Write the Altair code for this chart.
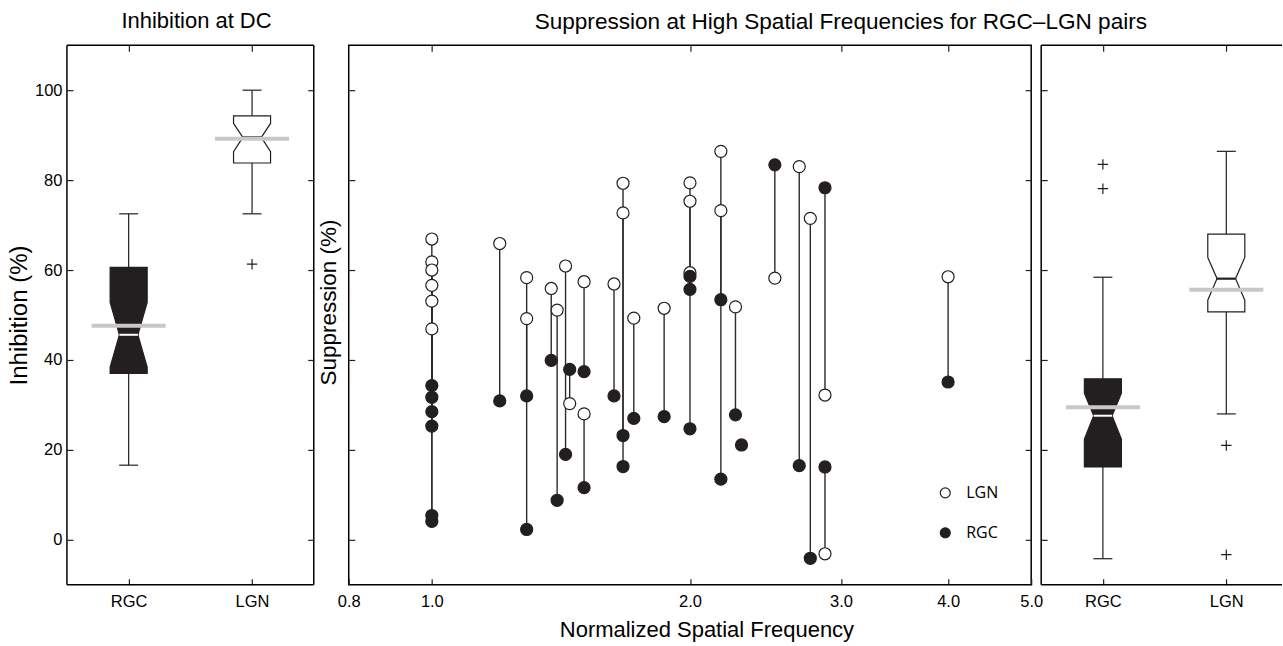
import altair as alt
import pandas as pd

FONT = "Liberation Sans"
INK = "#231f20"
GREY = "#c8c8c8"

# ---------------- middle panel: suppression of RGC-LGN pairs ----------------
pair_freq = [1.0, 1.0, 1.0, 1.0, 1.0, 1.0, 1.20, 1.29, 1.29, 1.378, 1.40, 1.432,
             1.448, 1.505, 1.505, 1.631, 1.671, 1.671, 1.72, 1.866, 2.0, 2.0, 2.0,
             2.173, 2.173, 2.26, 2.297, 2.512, 2.682, 2.763, 2.874, 2.874, 4.0]
pair_lgn = [66.9, 61.8, 60.0, 56.6, 53.1, 46.9, 65.9, 58.3, 49.2, 55.9, 51.1, 60.9,
            30.3, 57.4, 28.0, 56.9, 79.3, 72.7, 49.3, 51.5, 79.4, 75.3, 59.4,
            86.4, 73.2, 51.8, None, 58.2, 83.0, 71.5, 32.2, -3.1, 58.5]
pair_rgc = [34.3, 31.7, 28.5, 25.3, 5.4, 4.1, 30.9, 2.3, 32.0, 39.9, 8.8, 19.0,
            37.9, 37.4, 11.6, 32.0, 16.3, 23.2, 27.0, 27.4, 24.7, 58.6, 55.7,
            13.5, 53.4, 27.8, 21.1, 83.4, 16.5, -4.1, 78.3, 16.2, 35.1]
freq_ticks = [0.8, 1.0, 2.0, 3.0, 4.0, 5.0]
freq_top_ticks = [1.0, 2.0, 3.0, 4.0]

# ---------------- box summaries ----------------
box_groups = ["RGC", "LGN"]
box_pos = [1, 2]
box_fill = ["#231f20", "white"]
median_color = ["white", "#231f20"]

dc_whisk_lo = [16.6, 72.5]
dc_q1 = [37.0, 83.8]
dc_notch_lo = [38.4, 86.3]
dc_median = [45.6, 89.5]
dc_notch_hi = [52.8, 92.6]
dc_q3 = [60.6, 94.3]
dc_whisk_hi = [72.5, 100.0]
dc_mean = [47.6, 89.2]
dc_out_group = ["LGN"]
dc_out_value = [61.3]

hf_whisk_lo = [-4.2, 28.0]
hf_q1 = [16.2, 50.7]
hf_notch_lo = [22.4, 53.3]
hf_median = [27.6, 58.1]
hf_notch_hi = [32.6, 62.8]
hf_q3 = [35.8, 68.0]
hf_whisk_hi = [58.4, 86.4]
hf_mean = [29.5, 55.6]
hf_out_group = ["RGC", "RGC", "LGN", "LGN"]
hf_out_value = [83.5, 78.1, 21.0, -3.3]

y_ticks = [0, 20, 40, 60, 80, 100]
Y_DOMAIN = [-10, 110]

# style constants (widths in category units)
BOX_HW, NOTCH_HW, CAP_HW, MEAN_HW = 0.15, 0.075, 0.077, 0.30
H = 540
FRAME_W = 247
PLUS = "M-1,0L1,0M0,-1L0,1"
LABEL_SIZE = 16.5


def tick_axis(orient, values, labels=True, labelPadding=6, offset=-6, **kw):
    return alt.Axis(orient=orient, values=values, labels=labels, tickSize=6, offset=offset,
                    domain=False, grid=False, tickColor=INK, tickWidth=1.2,
                    labelFont=FONT, labelFontSize=LABEL_SIZE, labelColor="black",
                    labelPadding=labelPadding, **kw)


def box_panel(whisk_lo, q1, notch_lo, median, notch_hi, q3, whisk_hi, mean,
              out_group, out_value, view_w, xmax, xrange, y_title, title, sides,
              right_tick_offset):
    s = pd.DataFrame({"group": box_groups, "pos": box_pos, "whisk_lo": whisk_lo,
                      "q1": q1, "notch_lo": notch_lo, "med": median,
                      "notch_hi": notch_hi, "q3": q3, "whisk_hi": whisk_hi, "avg": mean,
                      "fillc": box_fill, "medc": median_color})
    s["notch_l"] = s["pos"] - NOTCH_HW
    s["notch_r"] = s["pos"] + NOTCH_HW
    s["cap_l"] = s["pos"] - CAP_HW
    s["cap_r"] = s["pos"] + CAP_HW
    s["mean_l"] = s["pos"] - MEAN_HW
    s["mean_r"] = s["pos"] + MEAN_HW

    outl = pd.DataFrame({"group": out_group, "value": out_value})
    outl["pos"] = outl["group"].map(dict(zip(box_groups, box_pos)))

    sc = dict(domain=[0.5, xmax], nice=False, zero=False)
    if xrange is not None:
        sc["range"] = xrange
    xs = alt.Scale(**sc)
    ys = alt.Scale(domain=Y_DOMAIN, nice=False, zero=False)
    xa = tick_axis("bottom", [1, 2], labelExpr="datum.value == 1 ? 'RGC' : 'LGN'",
                   title=None, labelPadding=9)
    if y_title:
        ya = tick_axis("left", y_ticks, title=y_title, titleFont=FONT, titleFontSize=24,
                       titleFontWeight="normal", titleColor="black", titlePadding=3,
                       labelPadding=5)
    else:
        ya = tick_axis("left", y_ticks, labels=False, title=None, labelPadding=0)

    def X(f):
        return alt.X(f, type="quantitative", scale=xs, axis=xa)

    def Y(f):
        return alt.Y(f, type="quantitative", scale=ys, axis=ya)

    base = alt.Chart(s)
    rule = dict(color=INK, strokeWidth=1.2)
    layers = [
        base.mark_rule(**rule).encode(x=X("pos"), y=Y("q3"), y2="whisk_hi"),
        base.mark_rule(**rule).encode(x=X("pos"), y=Y("whisk_lo"), y2="q1"),
        base.mark_rule(**rule).encode(x=X("cap_l"), x2="cap_r", y=Y("whisk_hi")),
        base.mark_rule(**rule).encode(x=X("cap_l"), x2="cap_r", y=Y("whisk_lo")),
    ]
    # notched box: lower and upper halves, each a plain vertical area
    for _, r in s.iterrows():
        p = r["pos"]
        lower = pd.DataFrame({
            "bx": [p - BOX_HW, p - NOTCH_HW, p + NOTCH_HW, p + BOX_HW],
            "lo": [r["q1"]] * 4,
            "hi": [r["notch_lo"], r["med"], r["med"], r["notch_lo"]]})
        upper = pd.DataFrame({
            "bx": [p - BOX_HW, p - NOTCH_HW, p + NOTCH_HW, p + BOX_HW],
            "lo": [r["notch_hi"], r["med"], r["med"], r["notch_hi"]],
            "hi": [r["q3"]] * 4})
        for half in (lower, upper):
            layers.append(alt.Chart(half).mark_area(
                fill=r["fillc"], stroke=INK, strokeWidth=1.2, opacity=1,
                interpolate="linear", strokeJoin="miter").encode(
                x=X("bx"), y=alt.Y("lo", type="quantitative", scale=ys, axis=ya, stack=None),
                y2="hi"))
        layers.append(alt.Chart(s[s["group"] == r["group"]]).mark_rule(
            color=r["medc"], strokeWidth=2).encode(x=X("notch_l"), x2="notch_r", y=Y("med")))
    layers.append(base.mark_rule(color=GREY, strokeWidth=4).encode(
        x=X("mean_l"), x2="mean_r", y=Y("avg")))
    layers.append(alt.Chart(outl).mark_point(shape=PLUS, size=110, color=INK, strokeWidth=1.2,
                                             filled=False, opacity=1).encode(
        x=X("pos"), y=Y("value")))

    one = pd.DataFrame({"k": [0]})
    fr = alt.Chart(one).mark_rule(color="black", strokeWidth=1.5)
    xd0 = alt.X(datum=0.5, type="quantitative", scale=xs, axis=xa)
    if "left" in sides:
        layers.append(fr.encode(x=xd0, y=alt.Y(datum=Y_DOMAIN[0], type="quantitative", scale=ys, axis=ya),
                                y2=alt.datum(Y_DOMAIN[1])))
    if "right" in sides:
        layers.append(fr.encode(x=alt.X(datum=xmax, type="quantitative", scale=xs, axis=xa),
                                y=alt.Y(datum=Y_DOMAIN[0], type="quantitative", scale=ys, axis=ya),
                                y2=alt.datum(Y_DOMAIN[1])))
    for yv in Y_DOMAIN:
        layers.append(fr.encode(x=xd0, x2=alt.datum(xmax),
                                y=alt.Y(datum=yv, type="quantitative", scale=ys, axis=ya)))
    main = alt.layer(*layers)
    mirror = alt.Chart(s).mark_point(opacity=0).encode(
        x=alt.X("pos:Q", scale=xs, axis=tick_axis("top", [1, 2], labels=False, title=None,
                                                   labelPadding=0)),
        y=alt.Y("med:Q", scale=ys,
                axis=(tick_axis("right", y_ticks, labels=False, title=None, labelPadding=0,
                                offset=right_tick_offset)
                      if right_tick_offset is not None else None)))
    props = dict(width=view_w, height=H, view=alt.ViewBackground(stroke=None))
    if title:
        props["title"] = alt.TitleParams(title, frame="group", anchor="start",
                                         dx=FRAME_W / 2 - 69)
    return alt.layer(main, mirror).resolve_scale(x="independent", y="independent").properties(**props)


left = box_panel(dc_whisk_lo, dc_q1, dc_notch_lo, dc_median, dc_notch_hi, dc_q3, dc_whisk_hi,
                 dc_mean, dc_out_group, dc_out_value, FRAME_W + 25, 2.5, [0, FRAME_W],
                 "Inhibition (%)", "Inhibition at DC", ("left", "right"), -31)
right_w = 241
right = box_panel(hf_whisk_lo, hf_q1, hf_notch_lo, hf_median, hf_notch_hi, hf_q3, hf_whisk_hi,
                  hf_mean, hf_out_group, hf_out_value, right_w, 0.5 + 2 * right_w / FRAME_W, None,
                  None, None, ("left",), None)

# ---------------- middle panel ----------------
pairs = pd.DataFrame({"freq": pair_freq, "lgn": pair_lgn, "rgc": pair_rgc})
seg = pairs.dropna().copy()
pts = pd.concat([
    pd.DataFrame({"freq": pair_freq, "value": pair_lgn, "cell": "LGN"}),
    pd.DataFrame({"freq": pair_freq, "value": pair_rgc, "cell": "RGC"}),
], ignore_index=True).dropna()
pts["k"] = list(range(len(pts)))

fx = alt.Scale(type="log", domain=[0.8, 5.0], nice=False)
fy = alt.Scale(domain=Y_DOMAIN, nice=False, zero=False)
fxa = tick_axis("bottom", freq_ticks, format=".1f", labelFlush=False, labelOverlap=False,
                title="Normalized Spatial Frequency", titleFont=FONT, titleFontSize=22,
                titleFontWeight="normal", titleColor="black", titleX=358, titlePadding=9,
                labelPadding=9)
fya = tick_axis("left", y_ticks, labels=False, title="Suppression (%)", titleFont=FONT,
                titleFontSize=22.5, titleFontWeight="normal", titleColor="black", titlePadding=8,
                titleY=257, labelPadding=0)

rules = alt.Chart(seg).mark_rule(color="#2b2b2b", strokeWidth=1.4).encode(
    x=alt.X("freq:Q", scale=fx, axis=fxa), y=alt.Y("lgn:Q", scale=fy, axis=fya), y2="rgc:Q")
dots = alt.Chart(pts).mark_point(shape="circle", filled=True, size=145, stroke=INK,
                                 strokeWidth=1.2, opacity=1).encode(
    x=alt.X("freq:Q", scale=fx, axis=fxa), y=alt.Y("value:Q", scale=fy, axis=fya),
    fill=alt.Fill("cell:N", scale=alt.Scale(domain=["LGN", "RGC"], range=["white", INK]),
                  legend=alt.Legend(orient="none", legendX=589, legendY=440, title=None,
                                    labelFont="Open Sans", labelFontSize=16, labelColor="black",
                                    symbolSize=100, symbolStrokeColor=INK, symbolStrokeWidth=1.2,
                                    symbolType="circle", rowPadding=24, labelOffset=13,
                                    padding=0)),
    order=alt.Order("k:Q"))
mid_mirror = alt.Chart(pts).mark_point(opacity=0).encode(
    x=alt.X("freq:Q", scale=fx, axis=tick_axis("top", freq_top_ticks, labels=False, title=None,
                                                 labelPadding=0)),
    y=alt.Y("value:Q", scale=fy, axis=tick_axis("right", y_ticks, labels=False, title=None,
                                                  labelPadding=0)))
middle = alt.layer(alt.layer(rules, dots), mid_mirror).resolve_scale(
    x="independent", y="independent").properties(
    width=683, height=H,
    title=alt.TitleParams("Suppression at High Spatial Frequencies for RGC\u2013LGN pairs",
                          frame="group", anchor="middle", dx=151, fontSize=22.6))

chart = alt.hconcat(left, middle, right, spacing=10, bounds="flush").resolve_scale(
    fill="independent", color="independent").configure(
    padding={"left": 7, "top": 10, "right": 0, "bottom": 0},
    background="white").configure_view(
    stroke="black", strokeWidth=1.5).configure_title(
    font=FONT, fontSize=22, fontWeight="normal", color="black", offset=11)

chart.save("out.html", embed_options={"renderer": "svg", "actions": False})
